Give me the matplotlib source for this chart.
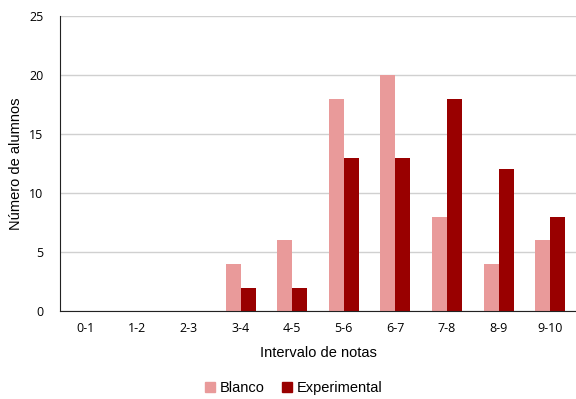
import numpy as np
import matplotlib.pyplot as plt
from matplotlib.patches import Patch

intervalos = ['0-1', '1-2', '2-3', '3-4', '4-5', '5-6', '6-7', '7-8', '8-9', '9-10']
blanco = [0, 0, 0, 4, 6, 18, 20, 8, 4, 6]
experimental = [0, 0, 0, 2, 2, 13, 13, 18, 12, 8]

col_blanco = '#E99A9A'
col_exp = '#990000'

fig = plt.figure(figsize=(5.76, 3.99), dpi=100)
ax = fig.add_axes([0.104, 0.22, 0.896, 0.74])

x = np.arange(len(intervalos))
w = 0.29
ax.bar(x - w/2, blanco, w, color=col_blanco, zorder=3)
ax.bar(x + w/2, experimental, w, color=col_exp, zorder=3)

ax.set_xlim(-0.5, len(intervalos) - 0.5)
ax.set_ylim(0, 25)
ax.set_yticks(range(0, 26, 5))
ax.set_xticks(x)
ax.set_xticklabels(intervalos, fontfamily='Open Sans', fontsize=9)
for t in ax.get_yticklabels():
    t.set_fontfamily('Open Sans')
    t.set_fontsize(9)
ax.tick_params(length=0, pad=8)
ax.tick_params(axis='y', pad=12)

ax.grid(axis='y', color='#d0d0d0', linewidth=1, zorder=0)
for s in ['top', 'right']:
    ax.spines[s].set_visible(False)
ax.spines['left'].set_color('#222222')
ax.spines['bottom'].set_color('#222222')
ax.spines['left'].set_zorder(4)
ax.spines['bottom'].set_zorder(4)

ax.set_xlabel('Intervalo de notas', fontfamily='Liberation Sans', fontsize=10.5, labelpad=8)
ax.set_ylabel('Número de alumnos', fontfamily='Liberation Sans', fontsize=10.5, labelpad=4)

handles = [Patch(color=col_blanco, label='Blanco'), Patch(color=col_exp, label='Experimental')]
fig.legend(handles=handles, loc='center', bbox_to_anchor=(0.51, 0.027), ncol=2, frameon=False,
           prop={'family': 'Liberation Sans', 'size': 10.5}, handlelength=0.7, handleheight=0.7,
           handletextpad=0.3, columnspacing=1.2)

fig.savefig('out.png', dpi=100)
